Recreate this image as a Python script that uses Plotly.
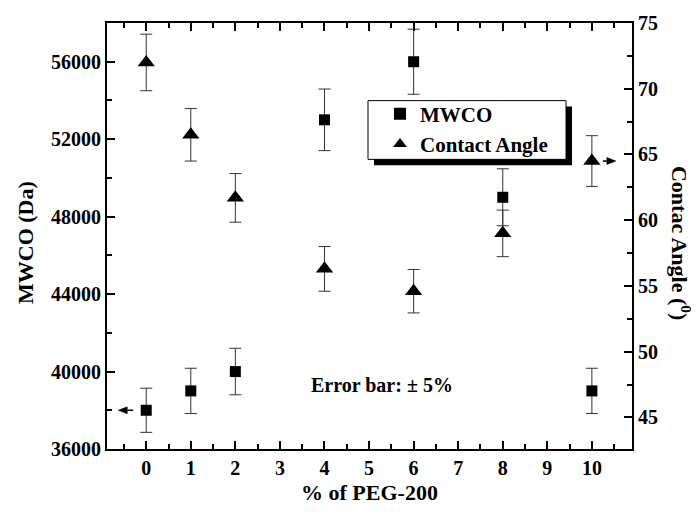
import plotly.graph_objects as go

# PEG-200 content (%)
peg = [0, 1, 2, 4, 6, 8, 10]
x_ticks = list(range(0, 11))

# Molecular weight cut-off (Da) and its error
mwco = [38000, 39000, 40000, 53000, 56000, 49000, 39000]
mwco_err = [1140, 1170, 1200, 1590, 1680, 1470, 1170]

# Contact angle (degrees) and its error
angle = [72.0, 66.5, 61.7, 56.3, 54.6, 59.0, 64.5]
angle_err = [2.15, 2.0, 1.85, 1.7, 1.65, 1.77, 1.93]

FONT = "Liberation Serif"
L, R, T, B = 107, 632, 21, 449
W, H = 698, 515
X_RANGE = [-0.88, 10.9]
Y_RANGE = [36000, 58000]
Y2_RANGE = [42.6, 75]


def px(xp):
    return (xp - L) / (R - L)


def py(yp):
    return (B - yp) / (B - T)


# data units per pixel on each axis
dx = (X_RANGE[1] - X_RANGE[0]) / (R - L)
dy = (Y_RANGE[1] - Y_RANGE[0]) / (B - T)
dy2 = (Y2_RANGE[1] - Y2_RANGE[0]) / (B - T)

fig = go.Figure()

fig.add_trace(go.Scatter(
    x=peg, y=mwco, mode="markers", name="MWCO",
    marker=dict(symbol="square", size=11, color="black"),
    error_y=dict(type="data", array=mwco_err, color="#333333", thickness=1, width=6),
    yaxis="y",
))
fig.add_trace(go.Scatter(
    x=peg, y=angle, mode="markers", name="Contact Angle",
    marker=dict(symbol="triangle-up", size=15, color="black"),
    error_y=dict(type="data", array=angle_err, color="#333333", thickness=1, width=6),
    yaxis="y2",
))

axis_common = dict(
    showline=True, linecolor="black", linewidth=2,
    ticks="inside", ticklen=8, tickwidth=2, tickcolor="black",
    showgrid=False, zeroline=False,
    tickfont=dict(family=FONT, size=20, color="black", weight="bold"),
)
minor_common = dict(ticks="inside", ticklen=5, tickwidth=2, tickcolor="black")

fig.update_layout(
    width=W, height=H,
    margin=dict(l=L, r=W - R, t=T, b=H - B),
    paper_bgcolor="white", plot_bgcolor="white",
    font=dict(family=FONT, color="black"),
    xaxis=dict(
        range=X_RANGE, tickmode="array", tickvals=x_ticks,
        ticktext=[str(v) for v in x_ticks], mirror="ticks",
        minor=dict(dtick=0.5, tick0=0, **minor_common),
        **axis_common,
    ),
    yaxis=dict(
        range=Y_RANGE, dtick=4000, tick0=36000, tickformat="d",
        minor=dict(dtick=2000, tick0=36000, **minor_common),
        **axis_common,
    ),
    yaxis2=dict(
        range=Y2_RANGE, dtick=5, tick0=45, overlaying="y", side="right",
        minor=dict(dtick=2.5, tick0=45, **minor_common),
        **axis_common,
    ),
    showlegend=True,
    legend=dict(
        x=px(380), y=py(92), xanchor="left", yanchor="top",
        bgcolor="rgba(0,0,0,0)", borderwidth=0,
        font=dict(family=FONT, size=21, color="black", weight="bold"),
        itemsizing="constant",
    ),
)

# Legend frame with drop shadow
fig.add_shape(type="rect", xref="paper", yref="paper",
              x0=px(374), x1=px(572), y0=py(164), y1=py(105),
              fillcolor="black", line=dict(width=0), layer="above")
fig.add_shape(type="rect", xref="paper", yref="paper",
              x0=px(368), x1=px(566), y0=py(158), y1=py(99),
              fillcolor="white", line=dict(color="black", width=1), layer="above")

# Axis titles
fig.add_annotation(text="<b>% of PEG-200</b>", xref="paper", yref="paper",
                   x=0.5, y=py(493), showarrow=False, xanchor="center", yanchor="middle",
                   font=dict(family=FONT, size=22, color="black"))
fig.add_annotation(text="<b>MWCO (Da)</b>", xref="paper", yref="paper",
                   x=px(26), y=py(242), showarrow=False, textangle=-90,
                   xanchor="center", yanchor="middle",
                   font=dict(family=FONT, size=22, color="black"))
fig.add_annotation(text="<b>Contac Angle (<sup>0</sup>)</b>", xref="paper", yref="paper",
                   x=px(681), y=py(242), showarrow=False, textangle=90,
                   xanchor="center", yanchor="middle",
                   font=dict(family=FONT, size=22, color="black"))

# Error note
fig.add_annotation(text="<b>Error bar: \u00b1 5%</b>", x=5.3, y=39300, xref="x", yref="y",
                   showarrow=False, font=dict(family=FONT, size=20, color="black"))


def arrow(x_tail, x_tip, y, yref, unit_y):
    """Horizontal arrow drawn as a line plus a filled head."""
    head_len = 9 * dx
    head_half = 3.5 * unit_y
    direction = 1 if x_tip > x_tail else -1
    base = x_tip - direction * head_len
    fig.add_shape(type="line", xref="x", yref=yref,
                  x0=x_tail, x1=base, y0=y, y1=y,
                  line=dict(color="black", width=1.5))
    fig.add_shape(type="path", xref="x", yref=yref,
                  path=f"M {x_tip},{y} L {base},{y + head_half} L {base},{y - head_half} Z",
                  fillcolor="black", line=dict(color="black", width=0.5))


# MWCO points to the left axis, contact angle to the right axis
arrow(peg[0] - 13 * dx, peg[0] - 28 * dx, mwco[0], "y", dy)
arrow(peg[-1] + 11 * dx, peg[-1] + 24 * dx, angle[-1], "y2", dy2)

fig.write_html("out.html")
